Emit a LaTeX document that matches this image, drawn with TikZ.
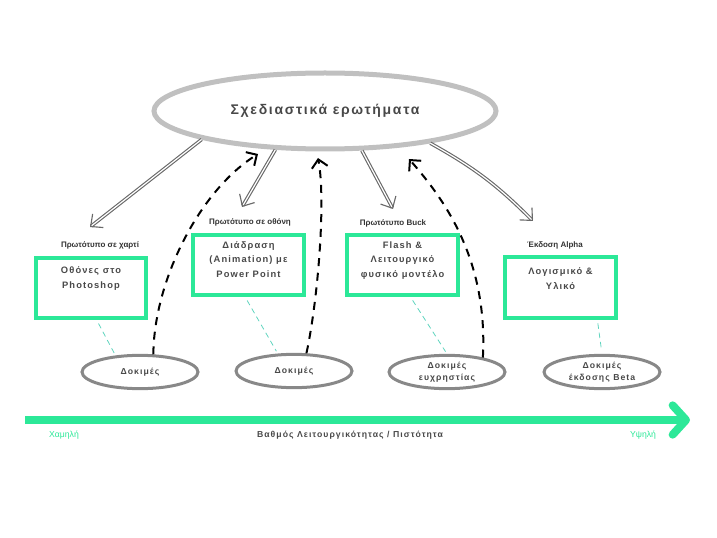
\documentclass[tikz,border=0pt]{standalone}
\usepackage{fontspec}
\setmainfont{Liberation Sans}
\newfontfamily\spaced[LetterSpace=12]{Liberation Sans}
\usetikzlibrary{shapes.geometric,arrows.meta,positioning}
\definecolor{fidgreen}{RGB}{44,232,152}
\definecolor{fidteal}{RGB}{95,212,190}
\definecolor{qgray}{RGB}{192,192,192}
\definecolor{tgray}{RGB}{136,136,136}
\definecolor{fgray}{RGB}{105,105,105}
\definecolor{txtgray}{RGB}{72,72,72}
\tikzset{
  question/.style={ellipse,draw=qgray,line width=3.75pt,minimum width=256.5pt,minimum height=57pt,
    font=\spaced\bfseries\fontsize{10.5}{12}\selectfont,text=txtgray},
  proto/.style={draw=fidgreen,line width=3pt,minimum width=83pt,minimum height=45pt},
  prototext/.style={align=center,inner sep=0pt,font=\spaced\bfseries\fontsize{7}{11}\selectfont,text=txtgray},
  stage/.style={font=\bfseries\fontsize{6}{7}\selectfont,text=black!80},
  test/.style={ellipse,draw=tgray,line width=2.25pt,minimum width=87pt,minimum height=25pt,inner sep=0pt,
    align=center,font=\spaced\bfseries\fontsize{6.5}{9}\selectfont,text=txtgray},
  feeds/.style={draw=fgray,double=white,double distance=0.9pt,line width=0.85pt,
    -{Straight Barb[length=7pt,width=13pt]}},
  retest/.style={black,line width=1.5pt,dash pattern=on 6pt off 5pt,-{Straight Barb[length=6pt,width=12pt]}},
  link/.style={draw=fidteal,line width=0.6pt,dash pattern=on 4pt off 3pt,shorten <=3pt,shorten >=2pt},
  axis/.style={draw=fidgreen,line width=6pt,-{Straight Barb[length=10pt,width=22pt,round]}},
  axislabel/.style={font=\fontsize{6.5}{8}\selectfont,text=fidgreen},
}

\begin{document}
\begin{tikzpicture}[x=0.75pt,y=-0.75pt]
\useasboundingbox (0,0) rectangle (717,538);
\node[question] (q) at (325,111) {Σχεδιαστικά ερωτήματα};

% prototypes
\node[proto] (b1) at (91,288) {};
\node[proto] (b2) at (248.5,265) {};
\node[proto] (b3) at (402.5,265) {};
\node[proto] (b4) at (560.5,287.5) {};
\node[prototext,below=8pt of b1.north] (b1t) {Οθόνες στο\\Photoshop};
\node[prototext,below=6pt of b2.north] (b2t) {Διάδραση\\(Animation) με\\Power Point};
\node[prototext,below=6pt of b3.north] (b3t) {Flash \&\\Λειτουργικό\\φυσικό μοντέλο};
\node[prototext,below=9pt of b4.north] (b4t) {Λογισμικό \&\\Υλικό};
\node[stage] (s1) at (100,245) {Πρωτότυπο σε χαρτί};
\node[stage] (s2) at (250,222) {Πρωτότυπο σε οθόνη};
\node[stage] (s3) at (393,223) {Πρωτότυπο Buck};
\node[stage] (s4) at (555,245) {Έκδοση Alpha};

% tests
\node[test] (t1) at (140,372) {Δοκιμές};
\node[test] (t2) at (294,371) {Δοκιμές};
\node[test] (t3) at (447,372) {Δοκιμές\\ευχρηστίας};
\node[test] (t4) at (602,372) {Δοκιμές\\έκδοσης Beta};

\coordinate (g1) at (90,227);
\coordinate (g2) at (242,207);
\coordinate (g3) at (393,209);
\coordinate (g4) at (533,221);
\draw[feeds] (q.193) -- (g1);
\draw[feeds] (q.218) -- (g2);
\draw[feeds] (q.313) -- (g3);
\draw[feeds] (q.343) to[bend left=8] (g4);

\coordinate (d1) at (258,154);
\coordinate (d2) at (318,158);
\coordinate (d3) at (409,159);
\draw[retest] (t1.53) .. controls (154,280) and (200,190) .. (d1);
\draw[retest] (t2.55) .. controls (318,300) and (326,200) .. (d2);
\draw[retest] (t3.22) .. controls (488,260) and (445,200) .. (d3);

\draw[link] (b1.-80) -- (t1.146);
\draw[link] (b2.-96) -- (t2.133);
\draw[link] (b3.-76) -- (t3.north);
\draw[link] (b4.-41.5) -- (t4.north);

% fidelity axis
\coordinate (a0) at (25,420);
\coordinate (a1) at (690,420);
\draw[axis] (a0) -- (a1);
\node[axislabel] (lo) at (64,435) {Χαμηλή};
\node[font=\spaced\bfseries\fontsize{6.5}{8}\selectfont,text=txtgray] (fid) at (350,435) {Βαθμός Λειτουργικότητας / Πιστότητα};
\node[axislabel] (hi) at (643,435) {Υψηλή};
\end{tikzpicture}
\end{document}
